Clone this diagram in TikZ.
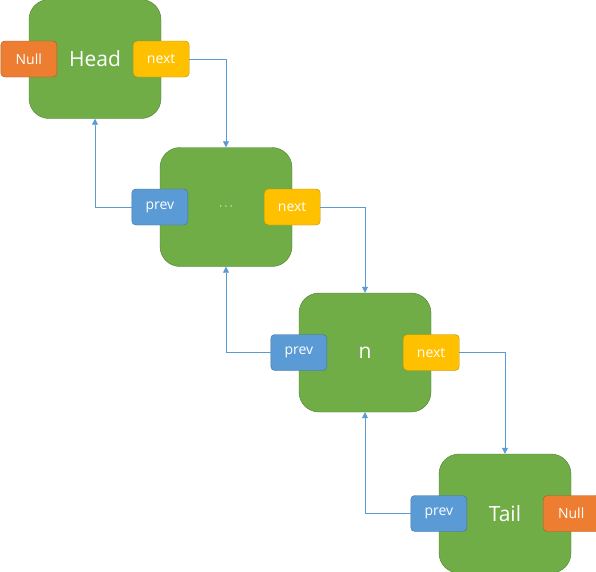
\documentclass[tikz,border=0pt]{standalone}
\usepackage{fontspec}
\setmainfont{Open Sans}
\usepackage{tikz}
\usetikzlibrary{arrows.meta,positioning}
\definecolor{llgreen}{HTML}{70AD47}
\definecolor{llgreenb}{HTML}{507E32}
\definecolor{llorange}{HTML}{ED7D31}
\definecolor{llorangeb}{HTML}{AE5A21}
\definecolor{llyellow}{HTML}{FFC000}
\definecolor{llyellowb}{HTML}{BC8C00}
\definecolor{llblue}{HTML}{5B9BD5}
\definecolor{llblueb}{HTML}{41719C}

\begin{document}
\begin{tikzpicture}[x=1pt,y=-1pt,
  nd/.style={draw=llgreenb,fill=llgreen,rounded corners=20pt,minimum width=132pt,minimum height=119pt,
    inner sep=0pt,text=white,font=\fontsize{21}{23}\selectfont},
  ptr/.style={rounded corners=4pt,minimum width=56pt,minimum height=36pt,inner sep=0pt,
    text=white,font=\fontsize{14}{16}\selectfont},
  nxt/.style={ptr,draw=llyellowb,fill=llyellow},
  prv/.style={ptr,draw=llblueb,fill=llblue},
  nul/.style={ptr,draw=llorangeb,fill=llorange},
  link/.style={-{Triangle[length=6pt,width=6pt]},draw=llblue,line width=0.8pt}]
  \clip (0,0) rectangle (596,571);
  \fill[white] (0,0) rectangle (596,571);
  % nodes of the list
  \node[nd] (head) at (95,59) {Head};
  \node[nd] (mid) at (226,207) {\fontsize{13}{15}\selectfont$\cdots$};
  \node[nd] (nn) at (365,352.5) {n};
  \node[nd] (tail) at (505,513.5) {Tail};
  % pointer fields
  \node[nul] (hnull) at (head.west) {Null};
  \node[nxt] (hnext) at (head.east) {next};
  \node[prv] (mprev) at (mid.west) {prev};
  \node[nxt] (mnext) at (mid.east) {next};
  \node[prv] (nprev) at (nn.west) {prev};
  \node[nxt] (nnext) at (nn.east) {next};
  \node[prv] (tprev) at (tail.west) {prev};
  \node[nul] (tnull) at (tail.east) {Null};
  % links
  \draw[link] (hnext.east) -| (mid.north);
  \draw[link] (mnext.east) -| (nn.north);
  \draw[link] (nnext.east) -| (tail.north);
  \draw[link] (mprev.west) -| (head.south);
  \draw[link] (nprev.west) -| (mid.south);
  \draw[link] (tprev.west) -| (nn.south);
\end{tikzpicture}
\end{document}
